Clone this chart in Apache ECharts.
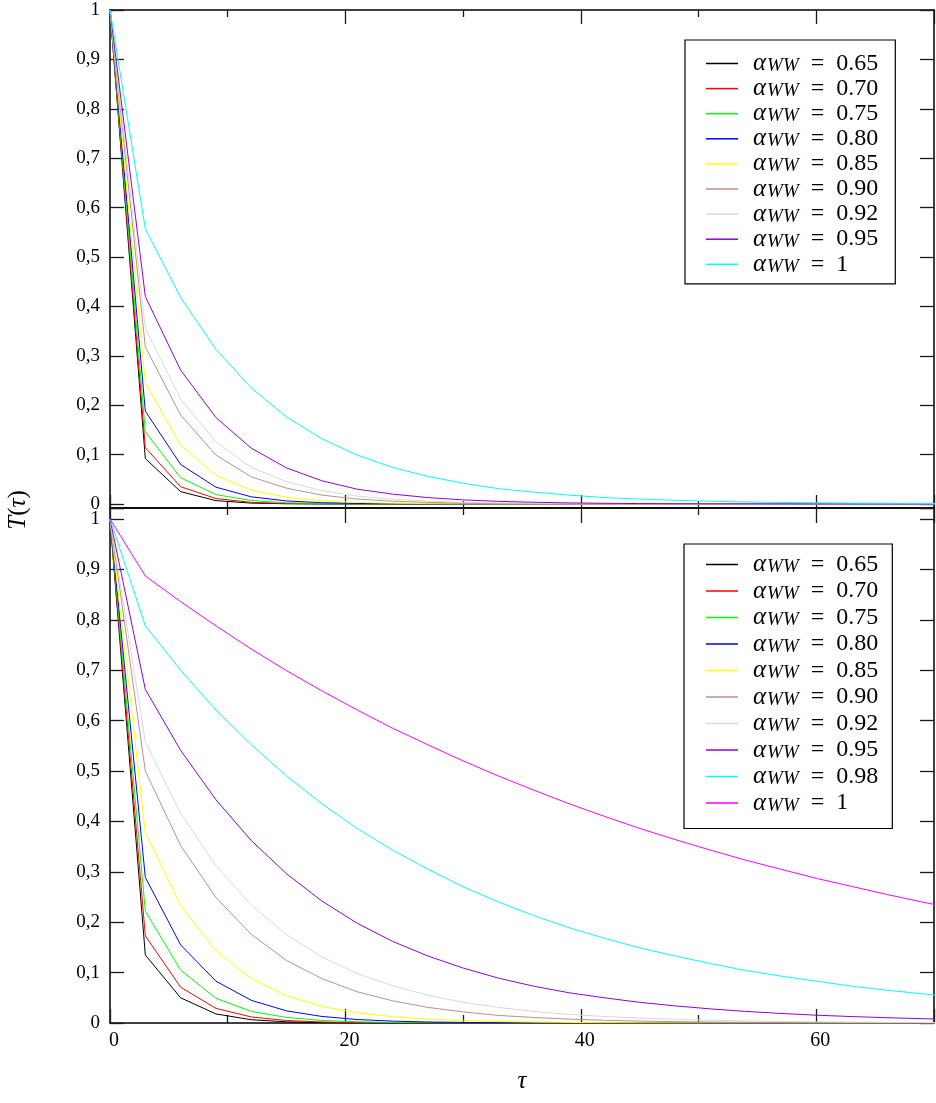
<!DOCTYPE html>
<html>
<head>
<meta charset="utf-8">
<script src="https://cdn.jsdelivr.net/npm/echarts@6/dist/echarts.min.js"></script>
<style>
html,body{margin:0;padding:0;background:#fff;}
#chart{width:936px;height:1103px;}
</style>
</head>
<body>
<div id="chart"></div>
<script>
// ---- data ----
const tau = [0,3,6,9,12,15,18,21,24,27,30,33,36,39,42,45,48,51,54,57,60,63,66,69,72];

// top panel
const topNames = ['0.65','0.70','0.75','0.80','0.85','0.90','0.92','0.95','1'];
const topColors = ['#000000','#ff0000','#00ff00','#0000ff','#ffff00','#bc8f8f','#d8d8d8','#9400d3','#00ffff'];
const top065 = [1,0.092,0.025,0.0068,0.0018,0.0005,0.0001,0,0,0,0,0,0,0,0,0,0,0,0,0,0,0,0,0,0];
const top070 = [1,0.114,0.035,0.011,0.0033,0.001,0.0003,0.0001,0,0,0,0,0,0,0,0,0,0,0,0,0,0,0,0,0];
const top075 = [1,0.146,0.053,0.019,0.007,0.0025,0.0009,0.0003,0.0001,0,0,0,0,0,0,0,0,0,0,0,0,0,0,0,0];
const top080 = [1,0.188,0.080,0.034,0.0145,0.0062,0.0026,0.0011,0.0005,0.0002,0.0001,0,0,0,0,0,0,0,0,0,0,0,0,0,0];
const top085 = [1,0.245,0.119,0.058,0.028,0.0135,0.0066,0.0032,0.0016,0.0008,0.0004,0.0002,0.0001,0,0,0,0,0,0,0,0,0,0,0,0];
const top090 = [1,0.318,0.180,0.099,0.055,0.032,0.018,0.010,0.0057,0.0032,0.0018,0.001,0.0006,0.0003,0.0002,0.0001,0,0,0,0,0,0,0,0,0];
const top092 = [1,0.356,0.212,0.126,0.074,0.045,0.027,0.016,0.0097,0.0058,0.0035,0.0021,0.0012,0.0007,0.0004,0.0003,0.0002,0.0001,0,0,0,0,0,0,0];
const top095 = [1,0.42,0.271,0.175,0.113,0.073,0.047,0.030,0.020,0.013,0.0083,0.0054,0.0035,0.0022,0.0014,0.0009,0.0006,0.0004,0.0003,0.0002,0.0001,0.0001,0,0,0];
const top100 = [1,0.557,0.418,0.313,0.235,0.176,0.132,0.099,0.074,0.056,0.042,0.031,0.024,0.018,0.013,0.010,0.0075,0.0056,0.0042,0.0032,0.0024,0.0018,0.0013,0.001,0.0008];
const topSeriesData = [top065,top070,top075,top080,top085,top090,top092,top095,top100];

// bottom panel
const botNames = ['0.65','0.70','0.75','0.80','0.85','0.90','0.92','0.95','0.98','1'];
const botColors = ['#000000','#ff0000','#00ff00','#0000ff','#ffff00','#bc8f8f','#d8d8d8','#9400d3','#00ffff','#ff00ff'];
const bot065 = [1,0.135,0.050,0.018,0.0065,0.0023,0.0008,0.0003,0.0001,0,0,0,0,0,0,0,0,0,0,0,0,0,0,0,0];
const bot070 = [1,0.173,0.071,0.029,0.012,0.0049,0.002,0.0008,0.0003,0.0001,0,0,0,0,0,0,0,0,0,0,0,0,0,0,0];
const bot075 = [1,0.222,0.105,0.049,0.023,0.011,0.0051,0.0024,0.0011,0.0005,0.0002,0.0001,0,0,0,0,0,0,0,0,0,0,0,0,0];
const bot080 = [1,0.289,0.155,0.083,0.045,0.024,0.013,0.0069,0.0037,0.002,0.0011,0.0006,0.0003,0.0002,0.0001,0,0,0,0,0,0,0,0,0,0];
const bot085 = [1,0.378,0.233,0.143,0.088,0.054,0.033,0.020,0.0125,0.0077,0.0047,0.0029,0.0018,0.0011,0.0007,0.0004,0.0003,0.0002,0.0001,0,0,0,0,0,0];
const bot090 = [1,0.500,0.352,0.249,0.176,0.124,0.088,0.062,0.044,0.031,0.022,0.015,0.011,0.0077,0.0054,0.0038,0.0027,0.0019,0.0013,0.0009,0.0007,0.0005,0.0003,0.0002,0.0002];
const bot092 = [1,0.558,0.416,0.312,0.234,0.175,0.131,0.098,0.074,0.055,0.041,0.031,0.023,0.017,0.013,0.0098,0.0074,0.0055,0.0041,0.0031,0.0023,0.0017,0.0013,0.001,0.0007];
const bot095 = [1,0.662,0.541,0.443,0.362,0.296,0.242,0.198,0.162,0.133,0.109,0.089,0.073,0.060,0.050,0.041,0.034,0.028,0.023,0.019,0.0155,0.0128,0.0105,0.0086,0.0071];
const bot098 = [1,0.788,0.700,0.621,0.552,0.490,0.435,0.386,0.343,0.305,0.270,0.240,0.213,0.189,0.168,0.149,0.133,0.118,0.104,0.093,0.083,0.073,0.065,0.058,0.051];
const bot100 = [1,0.887,0.836,0.788,0.742,0.699,0.659,0.621,0.585,0.552,0.520,0.490,0.462,0.435,0.410,0.386,0.364,0.343,0.323,0.305,0.287,0.271,0.255,0.240,0.226];
const botSeriesData = [bot065,bot070,bot075,bot080,bot085,bot090,bot092,bot095,bot098,bot100];

// ticks
const yTickValues = [0,0.1,0.2,0.3,0.4,0.5,0.6,0.7,0.8,0.9,1];
const yTickLabels = ['0','0,1','0,2','0,3','0,4','0,5','0,6','0,7','0,8','0,9','1'];
const xMajorTicks = [0,20,40,60];
const xMajorLabels = ['0','20','40','60'];

// ---- chart ----
const FONT = "'Liberation Serif','DejaVu Serif',serif";
const chart = echarts.init(document.getElementById('chart'));

function yFmt(v){
  const i = yTickValues.findIndex(t => Math.abs(t - v) < 1e-6);
  return i >= 0 ? yTickLabels[i] : '';
}
function xFmt(v){
  const i = xMajorTicks.findIndex(t => Math.abs(t - v) < 1e-6);
  return i >= 0 ? xMajorLabels[i] : '';
}
const TICK_COLOR = '#1a1a1a';
function xAxisDef(grid, pos, len, minorLen, labels){
  const ax = {
    type:'value', gridIndex:grid, position:pos, min:0, max:70, interval:20,
    axisLine:{show:true, onZero:false, lineStyle:{color:'#000', width:1.5}},
    axisTick:{show:true, inside:true, length:len, lineStyle:{color:TICK_COLOR, width:1.3}},
    minorTick:{show:true, splitNumber:2, length:minorLen, lineStyle:{color:TICK_COLOR, width:1.3}},
    axisLabel:{show:false},
    splitLine:{show:false}
  };
  if (labels) {
    ax.axisLabel = {show:true, formatter:xFmt, fontFamily:FONT, fontSize:20, color:'#000', margin:8, padding:[0,0,0,8], showMaxLabel:false};
  }
  return ax;
}
function yAxisDef(grid, pos, min, max, labels){
  const ax = {
    type:'value', gridIndex:grid, position:pos, min:min, max:max, splitNumber:10,
    axisLine:{show:true, onZero:false, lineStyle:{color:'#000', width:1.5}},
    axisTick:{show:true, inside:true, length:14, lineStyle:{color:TICK_COLOR, width:1.3}},
    axisLabel:{show:false},
    splitLine:{show:false}
  };
  if (labels) {
    ax.axisLabel = {show:true, formatter:yFmt, fontFamily:FONT, fontSize:19, color:'#000', margin:10};
  }
  return ax;
}

const xAxes = [
  xAxisDef(0,'bottom',13,7,false),
  xAxisDef(0,'top',14,7,false),
  xAxisDef(1,'bottom',14,8,true),
  xAxisDef(1,'top',15,7,false)
];
xAxes[2].name = 'τ';
xAxes[2].nameLocation = 'middle';
xAxes[2].nameGap = 46;
xAxes[2].nameTextStyle = {fontFamily:FONT, fontStyle:'italic', fontSize:25, color:'#000'};

const yAxes = [
  yAxisDef(0,'left',-0.0081,1,true),
  yAxisDef(0,'right',-0.0081,1,false),
  yAxisDef(1,'left',0,1.0218,true),
  yAxisDef(1,'right',0,1.0218,false)
];

const series = [];
topNames.forEach((n,i) => {
  series.push({
    name:'t'+n, type:'line', xAxisIndex:0, yAxisIndex:0,
    data: tau.map((t,k) => [t, topSeriesData[i][k]]),
    symbol:'none', showSymbol:false,
    itemStyle:{color:topColors[i]}, lineStyle:{color:topColors[i], width:1}
  });
});
botNames.forEach((n,i) => {
  series.push({
    name:'b'+n, type:'line', xAxisIndex:2, yAxisIndex:2,
    data: tau.map((t,k) => [t, botSeriesData[i][k]]),
    symbol:'none', showSymbol:false,
    itemStyle:{color:botColors[i]}, lineStyle:{color:botColors[i], width:1}
  });
});

const legendRich = {
  a:{fontFamily:FONT, fontStyle:'italic', fontSize:25, lineHeight:24, padding:[0,1,0,10], color:'#000'},
  s:{fontFamily:FONT, fontStyle:'italic', fontSize:19, lineHeight:14, verticalAlign:'bottom', color:'#000'},
  t:{fontFamily:FONT, fontSize:24, lineHeight:24, color:'#000'}
};
function legendFmt(name){
  return '{a|α}{s|WW}{t|  =  ' + name.slice(1) + '}';
}
function legendDef(names, left, top, gap, pad){
  return {
    orient:'vertical', left:left, top:top, data:names, selectedMode:false,
    icon:'rect', itemWidth:32, itemHeight:1.5, itemGap:gap, padding:pad,
    backgroundColor:'#fff', borderColor:'#000', borderWidth:1.2, borderRadius:0,
    formatter:legendFmt, textStyle:{rich:legendRich}
  };
}

const option = {
  animation:false,
  grid:[
    {left:110, right:2, top:10, height:498},
    {left:110, right:2, top:508, height:515}
  ],
  xAxis:xAxes,
  yAxis:yAxes,
  legend:[
    legendDef(topNames.map(n=>'t'+n), 685, 40, 0.1, [11,17,7,21]),
    legendDef(botNames.map(n=>'b'+n), 684, 544, 1.5, [8,14,13,22])
  ],
  graphic:[{
    type:'text', x:18, y:510, rotation:Math.PI/2,
    style:{
      text:'{i|T}{n|(}{i|τ}{n|)}', align:'center', verticalAlign:'middle',
      rich:{
        i:{fontFamily:FONT, fontStyle:'italic', fontSize:25, fill:'#000'},
        n:{fontFamily:FONT, fontSize:25, fill:'#000'}
      }
    }
  }],
  series:series
};
chart.setOption(option);
</script>
</body>
</html>
